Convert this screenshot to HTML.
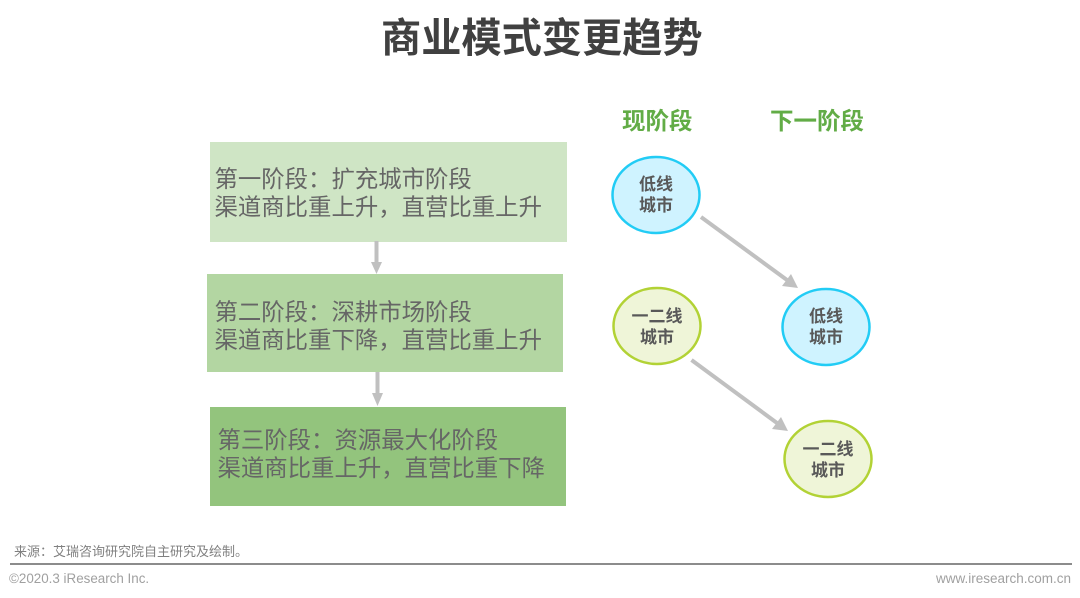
<!DOCTYPE html>
<html><head><meta charset="utf-8">
<style>
html,body{margin:0;padding:0;background:#fff;}
#p{position:relative;width:1080px;height:598px;overflow:hidden;background:#fff;font-family:"Liberation Sans","Noto Sans CJK SC",sans-serif;filter:blur(0.35px);}
.t{position:absolute;white-space:nowrap;}
.box{position:absolute;}
.s{font-size:23.4px;line-height:27.5px;color:#666;}
.c{width:100px;text-align:center;font-size:17px;line-height:21px;font-weight:700;color:#595959;}
</style></head><body>
<div id="p">
<div class="t" style="left:381px;top:14px;font-size:40.2px;line-height:50px;font-weight:700;color:#404040">商业模式变更趋势</div>

<div class="box" style="left:210px;top:142px;width:357px;height:100px;background:#cfe5c5"></div>
<div class="box" style="left:207px;top:274px;width:356px;height:98px;background:#b3d6a2"></div>
<div class="box" style="left:210px;top:407px;width:356px;height:99px;background:#93c47d"></div>

<div class="t s" style="left:214.500px;top:166px">第一阶段：扩充城市阶段<br>渠道商比重上升，直营比重上升</div>
<div class="t s" style="left:214.500px;top:299px">第二阶段：深耕市场阶段<br>渠道商比重下降，直营比重上升</div>
<div class="t s" style="left:217.500px;top:427px">第三阶段：资源最大化阶段<br>渠道商比重上升，直营比重下降</div>

<div class="t" style="left:622px;top:106px;font-size:23.5px;line-height:30px;font-weight:700;color:#62ac46">现阶段</div>
<div class="t" style="left:770px;top:106px;font-size:23.5px;line-height:30px;font-weight:700;color:#62ac46">下一阶段</div>

<svg style="position:absolute;left:0;top:0" width="1080" height="598">
<g fill="#c0c0c0" stroke="none">
<rect x="374.500" y="241" width="4" height="22"/><polygon points="371,262 382,262 376.500,274"/>
<rect x="375.500" y="372" width="4" height="22"/><polygon points="372,393 383,393 377.500,406"/>
</g>
<g stroke="#c0c0c0" stroke-width="4" fill="none">
<line x1="701" y1="217" x2="787" y2="280"/>
<line x1="691.500" y1="360" x2="777" y2="423"/>
</g>
<g fill="#c0c0c0">
<polygon points="798,288 782,286 791,274"/>
<polygon points="788,431 772,429 781,417"/>
</g>
<ellipse cx="656" cy="195" rx="43.500" ry="38" fill="#cff3ff" stroke="#22ccf5" stroke-width="2.500"/>
<ellipse cx="826" cy="327" rx="43.500" ry="38" fill="#cff3ff" stroke="#22ccf5" stroke-width="2.500"/>
<ellipse cx="657" cy="326" rx="43.500" ry="38" fill="#eff5d8" stroke="#b2d235" stroke-width="2.500"/>
<ellipse cx="828" cy="459" rx="43.500" ry="38" fill="#eff5d8" stroke="#b2d235" stroke-width="2.500"/>
</svg>

<div class="t c" style="left:606px;top:174px">低线<br>城市</div>
<div class="t c" style="left:776px;top:306px">低线<br>城市</div>
<div class="t c" style="left:607px;top:306px">一二线<br>城市</div>
<div class="t c" style="left:778px;top:439px">一二线<br>城市</div>

<div class="t" style="left:14px;top:543px;font-size:13px;line-height:18px;color:#808080">来源：艾瑞咨询研究院自主研究及绘制。</div>
<div class="box" style="left:10px;top:563px;width:1062px;height:2px;background:#8c8c8c"></div>
<div class="t" style="left:9px;top:571px;font-size:13.400px;line-height:15px;color:#a0a0a0">©2020.3 iResearch Inc.</div>
<div class="t" style="right:9px;top:571px;font-size:13.500px;line-height:15px;color:#a0a0a0">www.iresearch.com.cn</div>
</div>
</body></html>
